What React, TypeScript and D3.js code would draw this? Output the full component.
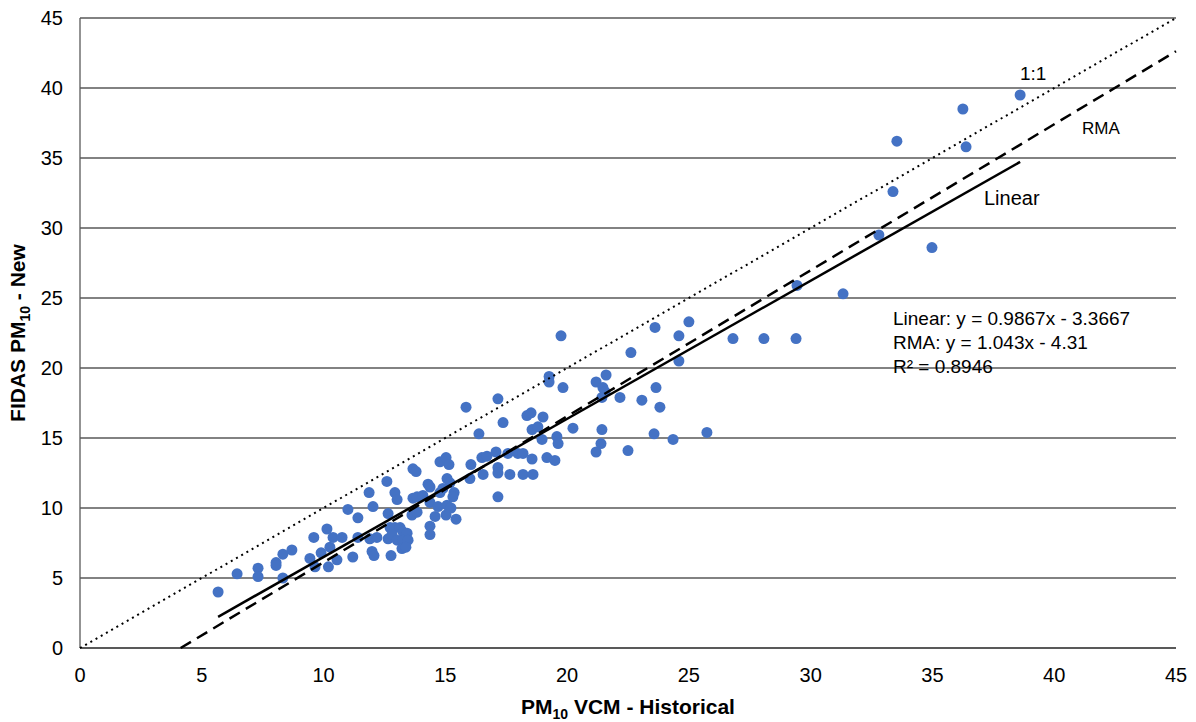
import React from 'react';
import { scaleLinear, line, extent } from 'd3';

// VCM historical (x) vs FIDAS new (y)
const vcmHistorical = [
  5.67, 6.45, 7.31, 7.31, 8.05, 8.05, 8.33, 8.33, 8.7, 9.44, 9.65, 9.6, 9.9, 10.2, 10.26, 10.14, 10.39, 10.55, 10.76,
  11.0, 11.2, 11.41, 11.41, 11.87, 12.03, 11.9, 11.99, 12.07, 12.19, 12.6, 12.65, 12.65, 12.77, 12.73, 12.93, 13.02,
  12.93, 13.14, 13.26, 13.43, 12.81, 13.02, 13.26, 13.47, 13.22, 13.38, 13.67, 13.8, 13.67, 13.84, 14.08, 13.63, 13.84,
  14.29, 14.37, 14.37, 14.7, 14.37, 14.37, 14.58, 14.78, 15.03, 15.15, 15.07, 15.19, 14.9, 14.78, 15.36, 15.31, 15.07,
  15.23, 15.03, 15.44, 15.85, 16.05, 16.01, 16.38, 16.5, 16.71, 16.55, 17.08, 17.16, 17.37, 17.16, 17.16, 17.16, 17.57,
  17.98, 18.19, 17.65, 18.19, 18.6, 18.56, 18.35, 18.52, 18.56, 18.8, 19.01, 18.97, 19.17, 19.5, 19.58, 19.63, 19.26,
  19.26, 19.83, 19.75, 20.24, 21.19, 21.6, 21.47, 21.56, 21.43, 22.17, 21.43, 21.39, 21.19, 22.5, 22.62, 23.07, 23.65,
  23.81, 23.57, 23.61, 24.35, 24.59, 24.59, 25.0, 25.74, 26.81, 28.08, 29.4, 29.44, 31.33, 32.8, 34.98, 33.38, 33.54,
  36.38, 36.25, 38.6,
];
const fidasNew = [
  4.0, 5.3, 5.7, 5.1, 6.1, 5.9, 5.0, 6.7, 7.0, 6.4, 5.8, 7.9, 6.8, 5.8, 7.2, 8.5, 7.9, 6.3, 7.9,
  9.9, 6.5, 9.3, 7.9, 11.1, 10.1, 7.8, 6.9, 6.6, 7.9, 11.9, 9.6, 7.8, 6.6, 8.6, 11.1, 10.6,
  8.6, 8.6, 8.3, 8.2, 8.1, 7.7, 7.7, 7.7, 7.1, 7.2, 12.8, 12.6, 10.7, 10.8, 10.9, 9.5, 9.7,
  11.7, 11.5, 10.4, 10.1, 8.7, 8.1, 9.4, 13.3, 13.6, 13.1, 12.1, 11.8, 11.4, 11.1, 11.1, 10.8, 10.2,
  10.0, 9.5, 9.2, 17.2, 13.1, 12.1, 15.3, 13.6, 13.7, 12.4, 14.0, 17.8, 16.1, 12.9, 12.5, 10.8, 13.9,
  13.9, 13.9, 12.4, 12.4, 12.4, 13.5, 16.6, 16.8, 15.6, 15.8, 16.5, 14.9, 13.6, 13.4, 15.1, 14.6, 19.4,
  19.0, 18.6, 22.3, 15.7, 19.0, 19.5, 18.6, 18.3, 17.9, 17.9, 15.6, 14.6, 14.0, 14.1, 21.1, 17.7, 18.6,
  17.2, 15.3, 22.9, 14.9, 22.3, 20.5, 23.3, 15.4, 22.1, 22.1, 22.1, 25.9, 25.3, 29.5, 28.6, 32.6, 36.2,
  35.8, 38.5, 39.5,
];

const axisTicks = [0, 5, 10, 15, 20, 25, 30, 35, 40, 45];
const linearFit = { slope: 0.9867, intercept: -3.3667 };
const rmaFit = { slope: 1.043, intercept: -4.31 };
const fitLabels = ['Linear: y = 0.9867x - 3.3667', 'RMA: y = 1.043x - 4.31', 'R² = 0.8946'];

const W = 1196;
const H = 722;
const margin = { top: 18, right: 20, bottom: 74, left: 80 };

export default function App() {
  const x = scaleLinear().domain([0, 45]).range([margin.left, W - margin.right]);
  const y = scaleLinear().domain([0, 45]).range([H - margin.bottom, margin.top]);
  const pts = vcmHistorical.map((v, i) => [v, fidasNew[i]] as [number, number]);
  const [xMin, xMax] = extent(vcmHistorical) as [number, number];

  const path = line<[number, number]>()
    .x((d) => x(d[0]))
    .y((d) => y(d[1]));

  const oneToOne = path([[0, 0], [45, 45]]) || '';
  const rmaStart = -rmaFit.intercept / rmaFit.slope;
  const rmaLine = path([[rmaStart, 0], [45, rmaFit.slope * 45 + rmaFit.intercept]]) || '';
  const linLine = path([
    [xMin, linearFit.slope * xMin + linearFit.intercept],
    [xMax, linearFit.slope * xMax + linearFit.intercept],
  ]) || '';

  const font = 'Liberation Sans, Arial, sans-serif';

  return (
    <svg
      width={W}
      height={H}
      style={{ position: 'absolute', left: 0, top: 0, background: '#fff' }}
      fontFamily={font}
    >
      {/* gridlines */}
      {axisTicks.slice(1).map((t) => (
        <line key={t} x1={x(0)} x2={x(45)} y1={y(t)} y2={y(t)} stroke="#595959" strokeWidth={1.3} />
      ))}
      <line x1={x(0)} x2={x(45)} y1={y(0)} y2={y(0)} stroke="#595959" strokeWidth={2} />
      <line x1={x(0)} x2={x(0)} y1={y(0)} y2={y(45)} stroke="#595959" strokeWidth={1.3} />

      {/* tick labels */}
      {axisTicks.map((t) => (
        <text key={'y' + t} x={x(0) - 17} y={y(t)} dy="0.36em" textAnchor="end" fontSize={20} fill="#000">
          {t}
        </text>
      ))}
      {axisTicks.map((t) => (
        <text key={'x' + t} x={x(t)} y={y(0) + 34} textAnchor="middle" fontSize={20} fill="#000">
          {t}
        </text>
      ))}

      {/* points */}
      {pts.map((d, i) => (
        <circle key={i} cx={x(d[0])} cy={y(d[1])} r={5.5} fill="#4472C4" />
      ))}

      {/* reference and fit lines */}
      <path d={oneToOne} fill="none" stroke="#000" strokeWidth={2} strokeDasharray="2 4" />
      <path d={rmaLine} fill="none" stroke="#000" strokeWidth={2.5} strokeDasharray="12 7" />
      <path d={linLine} fill="none" stroke="#000" strokeWidth={2.5} />

      <text x={1020} y={80} fontSize={19}>1:1</text>
      <text x={1082} y={134} fontSize={17}>RMA</text>
      <text x={984} y={205} fontSize={20}>Linear</text>
      {fitLabels.map((s, i) => (
        <text key={s} x={893} y={325 + i * 24} fontSize={19}>
          {s}
        </text>
      ))}

      {/* axis titles */}
      <text x={628} y={714} textAnchor="middle" fontSize={21} fontWeight="bold">
        PM<tspan fontSize={14} dy={5}>10</tspan>
        <tspan dy={-5}> VCM - Historical</tspan>
      </text>
      <text
        transform={`translate(25, ${y(22.5)}) rotate(-90)`}
        textAnchor="middle"
        fontSize={21}
        fontWeight="bold"
      >
        FIDAS PM<tspan fontSize={14} dy={5}>10</tspan>
        <tspan dy={-5}> - New</tspan>
      </text>
    </svg>
  );
}
